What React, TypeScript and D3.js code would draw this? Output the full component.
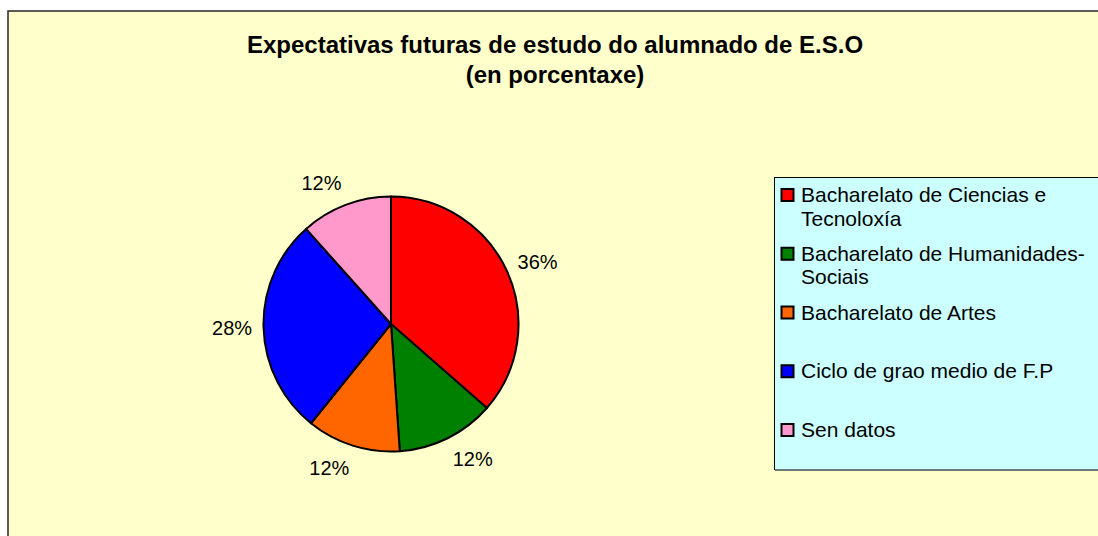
import React from "react";
import * as d3 from "d3";

const categories = [
  "Bacharelato de Ciencias e Tecnoloxía",
  "Bacharelato de Humanidades-Sociais",
  "Bacharelato de Artes",
  "Ciclo de grao medio de F.P",
  "Sen datos",
];
// shares (labels round them to whole percents)
const shares = [36.45, 12.45, 11.9, 27.6, 11.6];
const colors = ["#FF0000", "#008000", "#FF6600", "#0000FF", "#FF99CC"];
const titleLines = ["Expectativas futuras de estudo do alumnado de E.S.O", "(en porcentaxe)"];

const W = 1098;
const H = 536;
const FONT = "'Liberation Sans', Arial, sans-serif";
const cx = 391;
const cy = 324;
const radius = 127.5;
const labelRadius = 139;
const labelFont = 20;
const legendFont = 21;

let ctx: CanvasRenderingContext2D | null = null;
function measure(text: string, font: string) {
  if (!ctx) ctx = document.createElement("canvas").getContext("2d");
  if (!ctx) return text.length * 10;
  ctx.font = font;
  return ctx.measureText(text).width;
}

// wrap legend text the way the spreadsheet does (spaces and hyphens)
function wrap(text: string, maxWidth: number, font: string): string[] {
  const parts = text.split(/(?<=[ -])/);
  const lines: string[] = [];
  let cur = "";
  parts.forEach((p) => {
    const next = cur + p;
    if (cur && measure(next.trimEnd(), font) > maxWidth) {
      lines.push(cur.trimEnd());
      cur = p;
    } else {
      cur = next;
    }
  });
  if (cur) lines.push(cur.trimEnd());
  return lines;
}

export default function App() {
  const total = d3.sum(shares);
  const fmt = d3.format(".0%");
  const pie = d3.pie<number>().sort(null).value((d) => d).startAngle(0).endAngle(2 * Math.PI);
  const arcs = pie(shares);
  const arc = d3.arc<d3.PieArcDatum<number>>().innerRadius(0).outerRadius(radius);
  const labelArc = d3.arc<d3.PieArcDatum<number>>().innerRadius(labelRadius).outerRadius(labelRadius);

  // legend entries spread evenly in the box
  const legendY = d3.scalePoint<string>().domain(categories).range([202, 437]);

  return (
    <svg width={W} height={H} style={{ position: "absolute", left: 0, top: 0 }}>
      <rect x={8} y={11} width={W + 20} height={H + 20} fill="#FFFFCC" stroke="#333" strokeWidth={1.6} />

      {titleLines.map((t, i) => (
        <text key={i} x={555} y={53 + i * 30} textAnchor="middle" fontFamily={FONT}
          fontWeight="bold" fontSize={24} fill="#000">{t}</text>
      ))}

      <g transform={`translate(${cx},${cy})`}>
        {arcs.map((a, i) => (
          <path key={i} d={arc(a) || ""} fill={colors[i]} stroke="#000" strokeWidth={2} strokeLinejoin="round" />
        ))}
        {arcs.map((a, i) => {
          const label = fmt(a.value / total);
          const [bx, by] = labelArc.centroid(a);
          const mid = (a.startAngle + a.endAngle) / 2;
          // push the label box off the rim so its edge sits next to the pie
          const w = measure(label, `${labelFont}px ${FONT}`);
          const lx = bx + Math.sign(Math.sin(mid)) * w / 2;
          const ly = by - Math.cos(mid) * 11.5;
          return (
            <text key={i} x={lx} y={ly} dy="0.35em" textAnchor="middle" fontFamily={FONT}
              fontSize={labelFont} fill="#000">{label}</text>
          );
        })}
      </g>

      <rect x={774.5} y={177.5} width={W} height={292} fill="#CCFFFF" stroke="#000" strokeWidth={1} />
      <line x1={775} x2={W} y1={470} y2={470} stroke="#6B7B7B" strokeWidth={2} />
      {categories.map((c, i) => {
        const y = legendY(c) || 0;
        const lines = wrap(c, 292, `${legendFont}px ${FONT}`);
        return (
          <g key={i}>
            <rect x={781.5} y={y - 13} width={12} height={12} fill={colors[i]} stroke="#000" strokeWidth={2} />
            {lines.map((l, j) => (
              <text key={j} x={801} y={y + j * 23.5} fontFamily={FONT} fontSize={legendFont} fill="#000">{l}</text>
            ))}
          </g>
        );
      })}
    </svg>
  );
}
